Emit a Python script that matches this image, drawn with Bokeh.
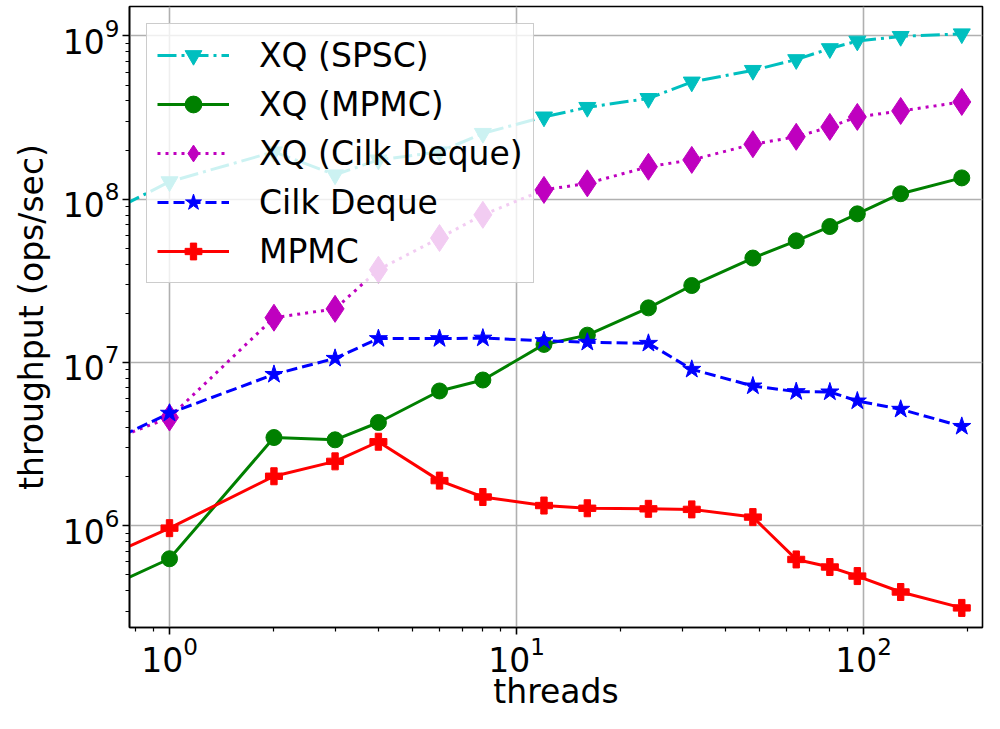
from bokeh.plotting import figure
from bokeh.models import Range1d, FixedTicker, Legend, LegendItem
from bokeh.embed import file_html
from bokeh.resources import INLINE

threads = [0.5, 1, 2, 3, 4, 6, 8, 12, 16, 24, 32, 48, 64, 80, 96, 128, 192]
xq_spsc = [6.05e7, 1.28e8, 1.95e8, 1.41e8, 1.74e8, 1.95e8, 2.53e8, 3.19e8, 3.65e8,
           4.14e8, 5.22e8, 6.15e8, 7.16e8, 8.36e8, 9.3e8, 9.93e8, 1.03e9]
xq_mpmc = [3.2e5, 6.28e5, 3.47e6, 3.36e6, 4.29e6, 6.69e6, 7.81e6, 1.29e7, 1.47e7,
           2.16e7, 2.96e7, 4.36e7, 5.56e7, 6.8e7, 8.13e7, 1.08e8, 1.35e8]
xq_cilk = [2.6e6, 4.6e6, 1.88e7, 2.13e7, 3.70e7, 5.78e7, 8.02e7, 1.14e8, 1.25e8,
           1.58e8, 1.74e8, 2.17e8, 2.41e8, 2.77e8, 3.19e8, 3.47e8, 3.94e8]
cilk = [2.44e6, 4.89e6, 8.45e6, 1.06e7, 1.40e7, 1.40e7, 1.41e7, 1.36e7, 1.33e7,
        1.31e7, 9.08e6, 7.18e6, 6.63e6, 6.6e6, 5.81e6, 5.17e6, 4.06e6]
mpmc = [4.99e5, 9.67e5, 2.01e6, 2.48e6, 3.27e6, 1.89e6, 1.50e6, 1.33e6, 1.28e6,
        1.27e6, 1.26e6, 1.13e6, 6.22e5, 5.59e5, 4.92e5, 3.93e5, 3.14e5]

labels = ["XQ (SPSC)", "XQ (MPMC)", "XQ (Cilk Deque)", "Cilk Deque", "MPMC"]
x_major = [1, 10, 100]
y_major = [1e6, 1e7, 1e8, 1e9]

FONT = "DejaVu Sans"

p = figure(width=984, height=713, x_axis_type="log", y_axis_type="log",
           output_backend="svg", toolbar_location=None,
           x_range=Range1d(10 ** -0.1153, 10 ** 2.343),
           y_range=Range1d(10 ** 5.377, 10 ** 9.180),
           min_border_left=129, min_border_right=2, min_border_top=6,
           min_border_bottom=84)

p.background_fill_color = "white"
p.border_fill_color = "white"
p.outline_line_color = "black"
p.outline_line_width = 1.6
p.outline_line_alpha = 1.0

x_minor = [m * 10 ** e for e in range(-1, 3) for m in range(2, 10)]
y_minor = [m * 10 ** e for e in range(5, 10) for m in range(2, 10)]
p.xaxis.ticker = FixedTicker(ticks=x_major, minor_ticks=x_minor)
p.yaxis.ticker = FixedTicker(ticks=y_major, minor_ticks=y_minor)

for ax in (p.xaxis[0], p.yaxis[0]):
    ax.axis_line_color = "black"
    ax.axis_line_width = 1.6
    ax.major_tick_line_color = "black"
    ax.minor_tick_line_color = "black"
    ax.major_tick_line_width = 1.6
    ax.minor_tick_line_width = 1.2
    ax.major_tick_in = 0
    ax.major_tick_out = 7
    ax.minor_tick_in = 0
    ax.minor_tick_out = 4
    ax.major_label_text_font = FONT
    ax.major_label_text_font_size = "33px"
    ax.major_label_text_color = "black"
    ax.axis_label_text_font = FONT
    ax.axis_label_text_font_size = "33px"
    ax.axis_label_text_font_style = "normal"
    ax.axis_label_text_color = "black"

p.xaxis.major_label_standoff = 1
p.xaxis.axis_label_standoff = -3
p.yaxis.major_label_standoff = 3
p.yaxis.axis_label_standoff = 9

p.xaxis.axis_label = "threads"
p.yaxis.axis_label = "throughput (ops/sec)"

for g in (p.xgrid[0], p.ygrid[0]):
    g.grid_line_color = "#b0b0b0"
    g.grid_line_width = 1.6

series = [
    (xq_spsc, "#00bfbf", "19 5 3 5", "inverted_triangle", 17),
    (xq_mpmc, "#008000", "solid", "circle", 16),
    (xq_cilk, "#bf00bf", "3 5", "diamond", 27),
    (cilk, "#0000ff", "11 5", "star", 19),
    (mpmc, "#ff0000", "solid", "plus", 17),
]

items = []
for (ys, color, dash, marker, size), label in zip(series, labels):
    ln = p.line(threads, ys, line_color=color, line_width=3, line_dash=dash)
    sc = p.scatter(threads, ys, marker=marker, size=size, fill_color=color,
                   line_color=color, line_width=1)
    items.append(LegendItem(label=label, renderers=[ln, sc]))

legend = Legend(items=items, location="top_left")
legend.margin = 17
legend.padding = 10
legend.spacing = 7
legend.glyph_width = 72
legend.glyph_height = 42
legend.label_height = 30
legend.label_standoff = 30
legend.label_text_font = FONT
legend.label_text_font_size = "33px"
legend.label_text_color = "black"
legend.background_fill_color = "white"
legend.background_fill_alpha = 0.8
legend.border_line_color = "#cccccc"
legend.border_line_width = 1.6
legend.border_line_alpha = 1.0
p.add_layout(legend)

open("out.html", "w").write(file_html(p, INLINE))
